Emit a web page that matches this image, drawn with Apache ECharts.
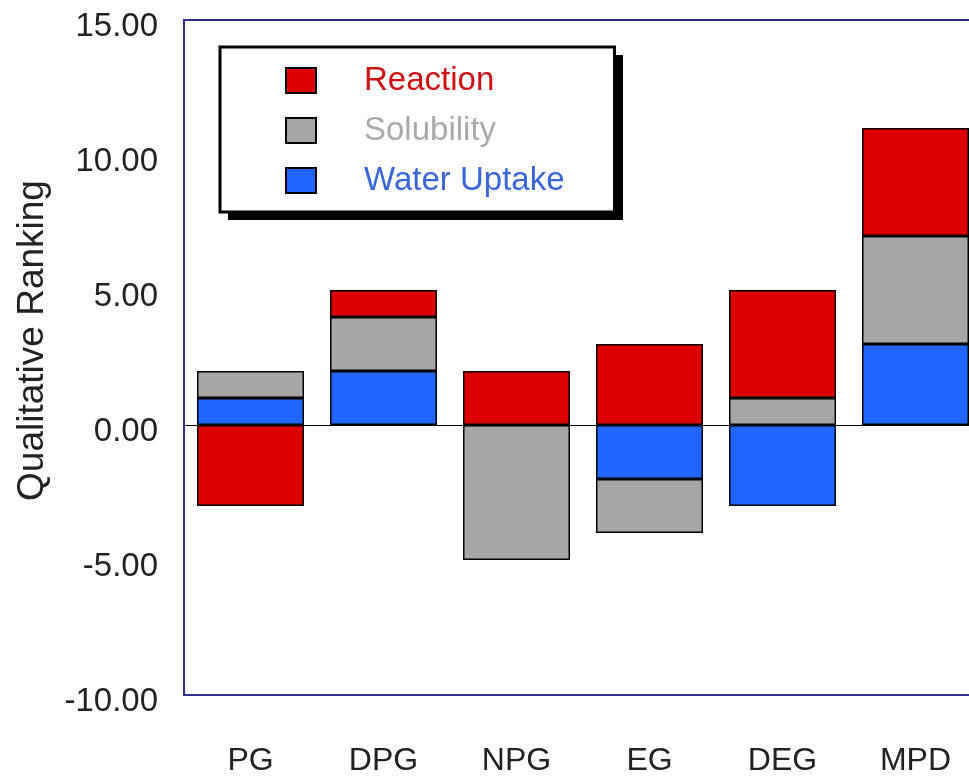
<!DOCTYPE html>
<html>
<head>
<meta charset="utf-8">
<script src="https://cdn.jsdelivr.net/npm/echarts@6/dist/echarts.min.js"></script>
<style>
html,body{margin:0;padding:0;background:#fff;}
#chart{width:969px;height:776px;}
</style>
</head>
<body>
<div id="chart"></div>
<script>
const categories = ['PG', 'DPG', 'NPG', 'EG', 'DEG', 'MPD'];
const waterUptake = [1, 2, 0, -2, -3, 3];
const solubility = [1, 2, -5, -2, 1, 4];
const reaction = [-3, 1, 2, 3, 4, 4];
const seriesNames = ['Reaction', 'Solubility', 'Water Uptake'];

const FONT = '"Liberation Sans", Arial, sans-serif';
const chart = echarts.init(document.getElementById('chart'));

const barStyle = (color) => ({ color: color, borderColor: '#000', borderWidth: 1.5 });

chart.setOption({
  animation: false,
  backgroundColor: '#fff',
  grid: {
    left: 184, width: 798, top: 20, bottom: 81,
    outerBoundsMode: 'none',
    containLabel: false,
    show: true, borderColor: '#2e2e8c', borderWidth: 2, backgroundColor: '#fff'
  },
  graphic: [
    { type: 'rect', z: 3, silent: true, shape: { x: 228, y: 55, width: 395, height: 165 }, style: { fill: '#000' } }
  ],
  legend: {
    orient: 'vertical',
    left: 220, top: 47,
    padding: [17, 50, 15, 65],
    itemWidth: 30, itemHeight: 25, itemGap: 17,
    backgroundColor: '#fff',
    borderColor: '#000', borderWidth: 3, borderRadius: 0,
    icon: 'rect',
    itemStyle: { borderColor: '#000', borderWidth: 2 },
    textStyle: { fontFamily: FONT, fontSize: 33, padding: [0, 0, 0, 43] },
    data: [
      { name: seriesNames[0], textStyle: { color: '#cc1111' } },
      { name: seriesNames[1], textStyle: { color: '#aaaaaa' } },
      { name: seriesNames[2], textStyle: { color: '#3a66d8' } }
    ]
  },
  xAxis: {
    type: 'category',
    data: categories,
    position: 'bottom',
    axisLine: { show: false, onZero: false },
    axisTick: { show: false },
    axisLabel: { fontFamily: FONT, fontSize: 32, color: '#222', margin: 50 }
  },
  yAxis: {
    type: 'value',
    min: -10, max: 15, interval: 5,
    name: 'Qualitative Ranking',
    nameLocation: 'middle',
    nameGap: 133,
    nameTextStyle: { fontFamily: FONT, fontSize: 37, color: '#222', padding: [0, 0, 0, 34] },
    axisLine: { show: false },
    axisTick: { show: false },
    splitLine: { show: false },
    axisLabel: {
      fontFamily: FONT, fontSize: 33, color: '#222', margin: 26,
      verticalAlign: 'top', lineHeight: 14,
      formatter: (v) => v.toFixed(2)
    }
  },
  series: [
    {
      name: seriesNames[2], type: 'bar', stack: 'total', data: waterUptake,
      barWidth: 107, itemStyle: barStyle('#2166ff'),
      markLine: {
        silent: true, symbol: 'none', label: { show: false },
        lineStyle: { color: '#000', width: 1.2, type: 'solid' },
        data: [{ yAxis: 0 }]
      }
    },
    { name: seriesNames[1], type: 'bar', stack: 'total', data: solubility, barWidth: 107, itemStyle: barStyle('#a6a6a6') },
    { name: seriesNames[0], type: 'bar', stack: 'total', data: reaction, barWidth: 107, itemStyle: barStyle('#dd0000') }
  ]
});
</script>
</body>
</html>
